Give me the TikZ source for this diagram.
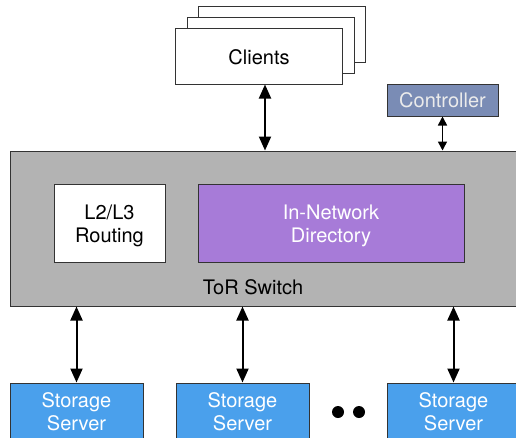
\documentclass[tikz,border=0pt]{standalone}
\usepackage{fontspec}
\setmainfont{TeX Gyre Heros}
\usetikzlibrary{arrows.meta}
\definecolor{bordergray}{HTML}{333333}
\definecolor{switchgray}{HTML}{B3B3B3}
\definecolor{dirpurple}{HTML}{A77BD8}
\definecolor{storeblue}{HTML}{4AA0EC}
\definecolor{ctrlblue}{HTML}{7A8CB5}
\tikzset{
  txt/.style={font=\fontsize{20}{23}\selectfont, align=center},
  box/.style={draw=bordergray, line width=1pt, inner sep=0pt, txt},
  clientbox/.style={box, fill=white, minimum width=167pt, minimum height=56pt},
  storebox/.style={box, fill=storeblue, text=white, minimum width=133pt, minimum height=58pt},
  bigarrow/.style={line width=2pt, {Triangle[length=14pt,width=12pt]}-{Triangle[length=14pt,width=12pt]}},
  smallarrow/.style={line width=1.5pt, {Triangle[length=9pt,width=9pt]}-{Triangle[length=9pt,width=9pt]}},
}
\begin{document}
\begin{tikzpicture}[x=1pt,y=-1pt]
\useasboundingbox (0,0) rectangle (516,437);
\clip (0,0) rectangle (516,437);
\fill[white] (0,0) rectangle (516,437);
% clients stack
\node[clientbox] (c3) at (281.5,34) {};
\node[clientbox] (c2) at (270.5,45) {};
\node[clientbox, label={[txt, yshift=-1.5pt]center:Clients}] (clients) at (259,56) {};
% controller
\node[box, fill=ctrlblue, text=white!92!black, minimum width=111pt, minimum height=32pt] (ctrl) at (442.5,100) {Controller};
% switch
\node[box, fill=switchgray, minimum width=512pt, minimum height=155pt] (switch) at (266,228.5) {};
\node[box, fill=white, minimum width=111pt, minimum height=78pt,
  label={[txt, yshift=-3pt]center:L2/L3\\Routing}] (routing) at (109.5,223) {};
\node[box, fill=dirpurple, minimum width=266pt, minimum height=78pt,
  label={[txt, text=white, yshift=-3pt]center:In-Network\\Directory}] (dir) at (331,223) {};
\node[txt, inner sep=0pt] (tor) at (253,287) {ToR Switch};
% storage
\node[storebox] (s1) at (76.5,412) {Storage\\Server};
\node[storebox] (s2) at (242.5,412) {Storage\\Server};
\node[storebox] (s3) at (453.5,412) {Storage\\Server};
\node[circle, fill=black, minimum size=12pt, inner sep=0pt] (d1) at (338,412) {};
\node[circle, fill=black, minimum size=12pt, inner sep=0pt] (d2) at (359,412) {};
% arrows
\draw[bigarrow] (clients.south -| 265,0) -- (265,0 |- switch.north);
\draw[smallarrow] (ctrl.south) -- (ctrl.south |- switch.north);
\draw[bigarrow] (s1.north) -- (s1.north |- switch.south);
\draw[bigarrow] (s2.north) -- (s2.north |- switch.south);
\draw[bigarrow] (s3.north) -- (s3.north |- switch.south);
\end{tikzpicture}
\end{document}
